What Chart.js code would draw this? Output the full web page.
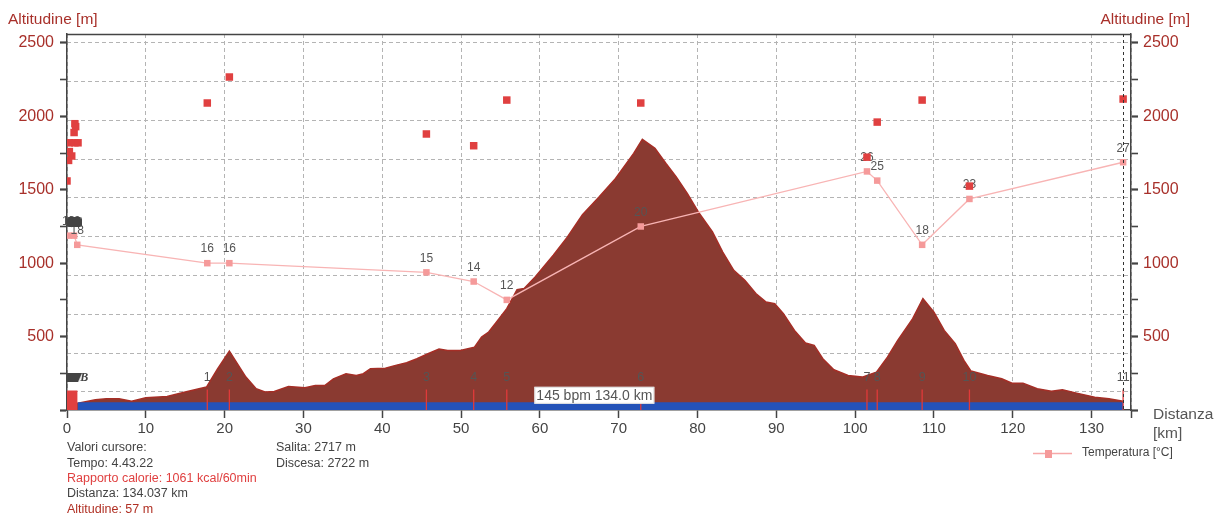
<!DOCTYPE html>
<html><head><meta charset="utf-8">
<script src="https://cdn.jsdelivr.net/npm/chart.js@4"></script>
<style>html,body{margin:0;padding:0;background:#fff;overflow:hidden}</style>
</head><body>
<canvas id="c" width="1216" height="515"></canvas>
<script>
// ---------- DATA ----------
const elevKm = [0,1.4,3.6,5.0,6.6,8.2,10.0,12.7,15.0,17.7,19.1,20.6,22.7,24.0,25.2,26.3,28.1,30.2,31.5,32.7,33.8,35.4,36.7,37.6,38.5,40.4,41.7,43.1,44.4,45.8,47.2,48.3,49.9,51.7,52.6,53.5,54.4,55.8,57.1,58.0,59.4,61.7,63.5,65.4,67.5,69.6,71.9,73.0,74.6,76.0,77.3,78.7,80.1,81.9,83.2,84.6,86.0,87.4,88.7,89.8,90.9,92.3,93.7,94.8,95.9,97.3,99.1,100.9,102.7,104.1,105.4,107.3,108.6,110.0,111.3,112.7,113.8,114.7,116.8,118.6,119.9,121.3,123.1,124.9,126.3,128.1,130.4,132.2,134.0];
const elevM = [50,46,70,76,76,60,83,92,122,156,280,401,224,145,122,126,160,151,167,167,212,247,235,247,281,285,304,322,349,383,415,406,406,428,497,531,592,690,820,827,906,1054,1179,1330,1450,1577,1748,1843,1782,1679,1588,1475,1349,1213,1076,951,883,793,735,724,656,542,456,440,349,274,235,224,258,360,474,622,759,667,542,452,338,265,235,213,183,183,145,128,138,115,87,76,60];

const lapKm = [17.8,20.6,45.6,51.6,55.8,72.8,101.5,102.8,108.5,114.5,134.0];
const lapNames = ['1','2','3','4','5','6','7','8','9','10','11'];

const tempKm = [0.2,0.9,1.3,17.8,20.6,45.6,51.6,55.8,72.8,101.5,102.8,108.5,114.5,134.0];
const tempC  = [19,19,18,16,16,15,14,12,20,26,25,18,23,27];

const calKm = [0.0,0.2,0.6,0.3,0.3,1.0,1.4,0.9,1.1,1.0,17.8,20.6,45.6,51.6,55.8,72.8,101.5,102.8,108.5,114.5,134.0];
const calM  = [1560,1700,1730,1760,1820,1820,1820,1890,1930,1950,2091,2268,1880,1800,2111,2091,1722,1961,2111,1525,2118];

const flagKm = [0.9,0.4];
const flagM  = [1279,222];
const flagNames = ['','B'];

const hrBandKm = [1.35,134.0];
const hrBandM  = [52,52];
const startBlockKm = [0,1.35];
const startBlockM  = [133,133];

const yTickValues = [0,250,500,750,1000,1250,1500,1750,2000,2250,2500];
const xTickValues = [0,10,20,30,40,50,60,70,80,90,100,110,120,130,135];
const altMax = 2561, kmMax = 135;
const tempPerMetre = 62.5;   // temperature drawn on altitude scale (1 °C = 62.5 m)
const cursorKm = 134.0;

const infoLines = [
  ['Valori cursore:','#444'],
  ['Tempo: 4.43.22','#444'],
  ['Rapporto calorie: 1061 kcal/60min','#e04040'],
  ['Distanza: 134.037 km','#444'],
  ['Altitudine: 57 m','#b03024']
];
const infoLines2 = ['Salita: 2717 m','Discesa: 2722 m'];
const tooltipText = '145 bpm 134.0 km';

// ---------- helpers ----------
const pts = (xs, ys) => xs.map((x,i)=>({x:x, y:ys[i]}));
const RED = '#a8302a';
Chart.defaults.font.family = "'Liberation Sans', Arial, sans-serif";

function flagCanvas(kind){
  const c = document.createElement('canvas');
  const ctx = c.getContext('2d');
  if(kind===0){
    c.width=15; c.height=10;
    ctx.fillStyle='#444';
    ctx.beginPath();
    ctx.moveTo(2,0);ctx.lineTo(13,0);ctx.quadraticCurveTo(15,0,15,2);ctx.lineTo(15,8);ctx.quadraticCurveTo(15,10,13,10);
    ctx.lineTo(2,10);ctx.quadraticCurveTo(0,10,0,8);ctx.lineTo(0,2);ctx.quadraticCurveTo(0,0,2,0);ctx.fill();
  } else {
    c.width=24; c.height=9;
    ctx.fillStyle='#444';
    ctx.beginPath();ctx.moveTo(5,0);ctx.lineTo(24,0);ctx.lineTo(20,9);ctx.lineTo(0,9);ctx.closePath();ctx.fill();
  }
  return c;
}

const labelPlugin = {
  id:'pointLabels',
  afterDatasetDraw(chart, args){
    const ds = chart.data.datasets[args.index];
    if(!ds.pointLabels) return;
    const ctx = chart.ctx;
    ctx.save();
    ctx.font = ds.labelFont; ctx.fillStyle = ds.labelColor;
    ctx.textAlign = ds.labelAlign || 'center'; ctx.textBaseline='middle';
    args.meta.data.forEach((el,i)=>{
      const t = ds.pointLabels[i];
      if(t!==undefined && t!=='') ctx.fillText(String(t), el.x + (ds.labelDx||0), el.y + (ds.labelDy||0));
    });
    ctx.restore();
  }
};

const decoPlugin = {
  id:'deco',
  afterDraw(chart){
    const ctx = chart.ctx, a = chart.chartArea;
    const xs = chart.scales.x, ys = chart.scales.y;
    ctx.save();
    // top border
    ctx.strokeStyle='#444'; ctx.lineWidth=1.5;
    ctx.beginPath(); ctx.moveTo(a.left, a.top+0.5); ctx.lineTo(a.right, a.top+0.5); ctx.stroke();
    // cursor line
    const cx = Math.round(xs.getPixelForValue(cursorKm))+0.5;
    ctx.strokeStyle='#333'; ctx.lineWidth=1; ctx.setLineDash([3,3]);
    ctx.beginPath(); ctx.moveTo(cx, a.top); ctx.lineTo(cx, a.bottom); ctx.stroke();
    ctx.setLineDash([]);
    // tooltip box
    const bx = xs.getPixelForValue(59.3), by = ys.getPixelForValue(158);
    ctx.font = "14px 'Liberation Sans', Arial, sans-serif";
    const tw = ctx.measureText(tooltipText).width;
    ctx.fillStyle='#fff'; ctx.fillRect(bx, by, tw+4, 17);
    ctx.strokeStyle='#ddd'; ctx.lineWidth=1; ctx.strokeRect(bx+0.5, by+0.5, tw+3, 16);
    ctx.fillStyle='#555'; ctx.textBaseline='middle'; ctx.textAlign='left';
    ctx.fillText(tooltipText, bx+2, by+9);
    // axis titles
    ctx.font = "15.5px 'Liberation Sans', Arial, sans-serif";
    ctx.fillStyle = RED;
    ctx.textAlign='left'; ctx.fillText('Altitudine [m]', 8, 20);
    ctx.textAlign='right'; ctx.fillText('Altitudine [m]', 1190, 20);
    ctx.fillStyle='#555'; ctx.textAlign='left';
    ctx.fillText('Distanza', 1153, 415);
    ctx.fillText('[km]', 1153, 434);
    // info text
    ctx.font = "12.5px 'Liberation Sans', Arial, sans-serif";
    infoLines.forEach((l,i)=>{ ctx.fillStyle=l[1]; ctx.fillText(l[0], 67, 448 + i*15.3); });
    ctx.fillStyle='#444';
    infoLines2.forEach((l,i)=>{ ctx.fillText(l, 276, 448 + i*15.3); });
    // legend
    ctx.strokeStyle='#f6a8a8'; ctx.lineWidth=1.5;
    ctx.beginPath(); ctx.moveTo(1033, 453.5); ctx.lineTo(1072, 453.5); ctx.stroke();
    ctx.fillStyle='#f59a9a'; ctx.fillRect(1045, 450, 7, 8);
    ctx.fillStyle='#444'; ctx.font = "12px 'Liberation Sans', Arial, sans-serif";
    ctx.fillText('Temperatura [°C]', 1082, 453);
    ctx.restore();
  }
};

new Chart(document.getElementById('c'), {
  data:{
    datasets:[
      { type:'scatter', label:'calorie', data:pts(calKm, calM), order:0,
        pointStyle:'rect', pointRadius:5.3, backgroundColor:'#e04040', borderWidth:0, yAxisID:'y' },
      { type:'scatter', label:'flags', data:pts(flagKm, flagM), order:1,
        pointStyle:[flagCanvas(0), flagCanvas(1)], pointRadius:6, yAxisID:'y',
        pointLabels:flagNames, labelFont:"italic bold 12px 'Liberation Serif', serif", labelColor:'#444', labelDx:14, labelDy:0 },
      { type:'line', label:'Temperatura [°C]', data:pts(tempKm, tempC), order:2, yAxisID:'yT',
        borderColor:'#f8b4b4', borderWidth:1.3, tension:0, fill:false,
        pointStyle:'rect', pointRadius:4.6, pointBackgroundColor:'#f59a9a', pointBorderWidth:0,
        pointLabels:tempC, labelFont:"12px 'Liberation Sans', Arial, sans-serif", labelColor:'#555', labelDy:-14 },
      { type:'scatter', label:'laps', data:pts(lapKm, lapKm.map(()=>68)), order:3, yAxisID:'y',
        pointStyle:'line', rotation:90, pointRadius:10.5, borderColor:'#e03a3a', borderWidth:1.3,
        pointLabels:lapNames, labelFont:"12.5px 'Liberation Sans', Arial, sans-serif", labelColor:'#555', labelDy:-22.5 },
      { type:'line', label:'hr', data:pts(hrBandKm, hrBandM), order:4, yAxisID:'y',
        borderWidth:0, pointRadius:0, fill:'origin', backgroundColor:'#2452b8' },
      { type:'line', label:'start', data:pts(startBlockKm, startBlockM), order:5, yAxisID:'y',
        borderWidth:0, pointRadius:0, fill:'origin', backgroundColor:'#e04040' },
      { type:'line', label:'Altitudine', data:pts(elevKm, elevM), order:6, yAxisID:'y',
        borderColor:'#a52e26', borderWidth:1.5, pointRadius:0, tension:0,
        fill:'origin', backgroundColor:'#8a3a31' }
    ]
  },
  options:{
    responsive:false, animation:false, events:[],
    layout:{padding:{top:34, left:0, right:0, bottom:0}},
    plugins:{legend:{display:false}, tooltip:{enabled:false}},
    scales:{
      x:{ type:'linear', min:0, max:kmMax,
        afterBuildTicks:(s)=>{ s.ticks = xTickValues.map(v=>({value:v})); },
        afterFit:(s)=>{ s.height = 105; },
        ticks:{ color:'#444', font:{size:15}, padding:2, autoSkip:false, maxRotation:0,
          callback:(v)=> v===kmMax ? '' : String(v) },
        grid:{ color:'#b4b4b4', lineWidth:1, tickLength:8, tickColor:'#444', tickWidth:1.5 },
        border:{ color:'#444', width:1.5, dash:[4,3] }
      },
      y:{ type:'linear', position:'left', min:0, max:altMax,
        afterBuildTicks:(s)=>{ s.ticks = yTickValues.map(v=>({value:v})); },
        afterFit:(s)=>{ s.width = 67; },
        ticks:{ color:RED, font:{size:16}, padding:6, autoSkip:false,
          callback:(v)=> (v>0 && v%500===0) ? String(v) : '' },
        grid:{ drawOnChartArea:false, tickLength:7, tickColor:'#444',
          tickWidth:(c)=> (c.tick && c.tick.value%500===0) ? 2.2 : 1.6 },
        border:{ color:'#444', width:1.5 }
      },
      y2:{ type:'linear', position:'right', min:0, max:altMax,
        afterBuildTicks:(s)=>{ s.ticks = yTickValues.map(v=>({value:v})); },
        afterFit:(s)=>{ s.width = 85; },
        ticks:{ color:RED, font:{size:16}, padding:5, autoSkip:false,
          callback:(v)=> (v>0 && v%500===0) ? String(v) : '' },
        grid:{ drawOnChartArea:false, tickLength:7, tickColor:'#444',
          tickWidth:(c)=> (c.tick && c.tick.value%500===0) ? 2.2 : 1.6 },
        border:{ color:'#444', width:1.5 }
      },
      yT:{ type:'linear', display:false, min:0, max:altMax/tempPerMetre },
      yG:{ type:'linear', position:'left', min:0, max:9.69,
        afterBuildTicks:(s)=>{ const t=[]; for(let k=0;k<10;k++) t.push({value:0.464+k}); s.ticks=t; },
        afterFit:(s)=>{ s.width = 0; },
        ticks:{ display:false },
        grid:{ color:'#b4b4b4', lineWidth:1, drawTicks:false },
        border:{ display:false, dash:[4,3] }
      }
    }
  },
  plugins:[labelPlugin, decoPlugin]
});
</script>
</body></html>
